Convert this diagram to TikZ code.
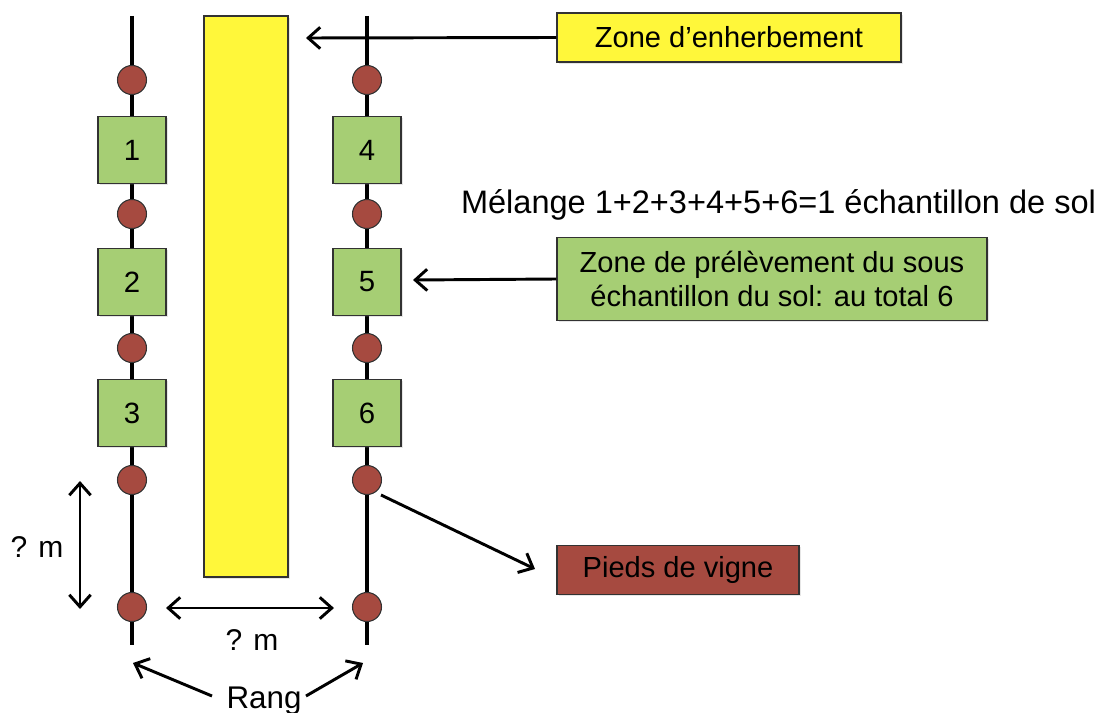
\documentclass[tikz,border=0pt]{standalone}
\usepackage{fontspec}
\setmainfont{Liberation Sans}
\usetikzlibrary{arrows.meta,shadows}
\definecolor{grass}{RGB}{255,247,58}
\definecolor{leaf}{RGB}{166,206,116}
\definecolor{vine}{RGB}{166,74,64}
\definecolor{edge}{RGB}{50,50,50}
\tikzset{
  softshadow/.style={drop shadow={opacity=0.2, shadow xshift=1.2pt, shadow yshift=-1.2pt}},
  rowline/.style={line width=2.4pt},
  plant/.style={circle, draw=edge, line width=0.8pt, fill=vine, minimum size=21.75pt, inner sep=0pt},
  sample/.style={rectangle, draw=edge, line width=0.8pt, fill=leaf, minimum width=51pt, minimum height=50pt, inner sep=0pt, softshadow, font=\fontsize{22pt}{26pt}\selectfont},
  legend/.style={rectangle, draw=edge, line width=0.8pt, inner sep=0pt, softshadow, font=\fontsize{21.8pt}{25pt}\selectfont, align=center},
  pointer/.style={line width=2.2pt, -{Straight Barb[length=9pt,width=16pt,line width=2.2pt]}},
  both/.style={line width=2.2pt, {Straight Barb[length=9pt,width=16pt,line width=2.2pt]}-{Straight Barb[length=9pt,width=16pt,line width=2.2pt]}},
  lbl/.style={font=\fontsize{22.5pt}{26pt}\selectfont, inner sep=0pt}
}
\begin{document}
\begin{tikzpicture}[x=0.75pt,y=-0.75pt]
\useasboundingbox (0,0) rectangle (1099,713);
% row lines
\coordinate (Ltop) at (132,16);
\coordinate (Lbot) at (132,645);
\coordinate (Rtop) at (367,16);
\coordinate (Rbot) at (367,645);
\draw[rowline] (Ltop) -- (Lbot);
\draw[rowline] (Rtop) -- (Rbot);
% grass strip
\node[rectangle, draw=edge, line width=0.8pt, fill=grass, softshadow, minimum width=63pt, minimum height=420.75pt, inner sep=0pt] (strip) at (246,296.5) {};
% left row
\node[plant] (l1) at (132,80) {};
\node[sample] (s1) at (132,150) {1};
\node[plant] (l2) at (132,214) {};
\node[sample] (s2) at (132,282) {2};
\node[plant] (l3) at (132,348) {};
\node[sample] (s3) at (132,413) {3};
\node[plant] (l4) at (132,480) {};
\node[plant] (l5) at (132,607) {};
% right row
\node[plant] (r1) at (367,80) {};
\node[sample] (s4) at (367,150) {4};
\node[plant] (r2) at (367,214) {};
\node[sample] (s5) at (367,282) {5};
\node[plant] (r3) at (367,348) {};
\node[sample] (s6) at (367,413) {6};
\node[plant] (r4) at (367,480) {};
\node[plant] (r5) at (367,607) {};
% legends
\node[legend, fill=grass, minimum width=258pt, minimum height=36.75pt] (zone) at (729,37.5) {Zone d’enherbement};
\coordinate (zonetip) at (306,38);
\draw[pointer] (zone.west) -- (zonetip);
\node[font=\fontsize{24.4pt}{28pt}\selectfont, inner sep=0pt] (mix) at (778.5,205) {Mélange 1+2+3+4+5+6=1 échantillon de sol};
\node[legend, fill=leaf, minimum width=322.5pt, minimum height=62.5pt] (prel) at (772,279) {Zone de prélèvement du sous\\échantillon du sol: au total 6};
\coordinate (preltip) at (413,280);
\draw[pointer] (prel.west) -- (preltip);
\node[legend, fill=vine, minimum width=181.5pt, minimum height=36.75pt] (pieds) at (678,570) {Pieds de vigne};
\coordinate (piedsfrom) at (381,495);
\coordinate (piedstip) at (535,569);
\draw[pointer] (piedsfrom) -- (piedstip);
% distances
\coordinate (vtop) at (80,481);
\coordinate (vbot) at (80,609);
\draw[both] (vtop) -- (vbot);
\node[lbl] (qv) at (37,547) {? m};
\coordinate (hl) at (166,608);
\coordinate (hr) at (334,608);
\draw[both] (hl) -- (hr);
\node[lbl] (qh) at (252,640) {? m};
% rang
\node[lbl, anchor=base, font=\fontsize{23.5pt}{26pt}\selectfont] (rang) at (264,708) {Rang};
\coordinate (rl) at (133,663);
\coordinate (rr) at (363,663);
\draw[pointer] (212,696) -- (rl);
\draw[pointer] (306,696) -- (rr);
\end{tikzpicture}
\end{document}
